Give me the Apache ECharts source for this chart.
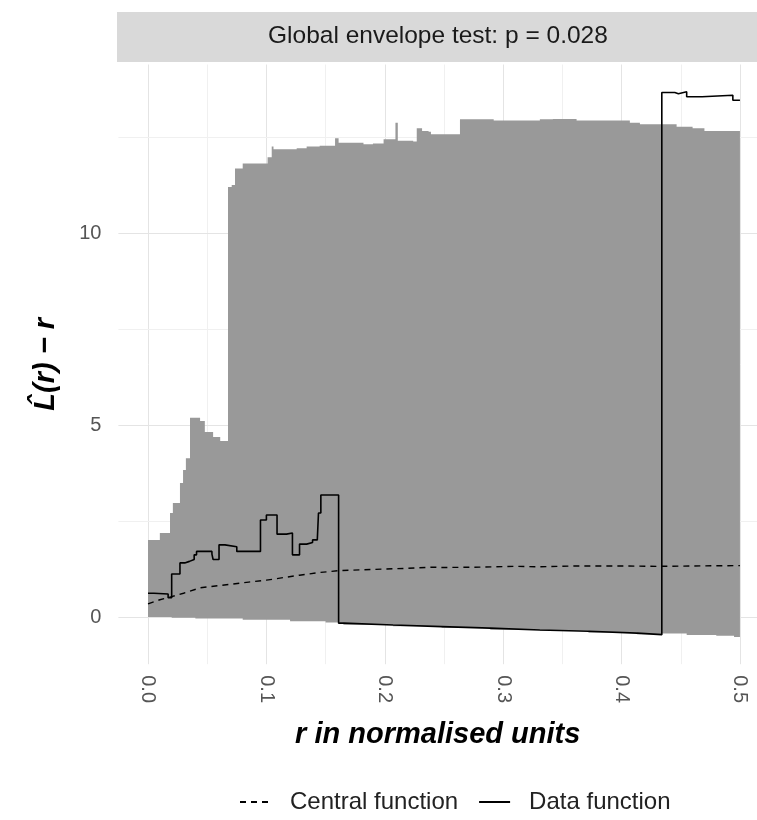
<!DOCTYPE html>
<html>
<head>
<meta charset="utf-8">
<script src="https://cdn.jsdelivr.net/npm/echarts@6/dist/echarts.min.js"></script>
<style>
  html, body { margin: 0; padding: 0; background: #fff; }
  #chart { width: 757px; height: 820px; }
</style>
</head>
<body>
<div id="chart"></div>
<script>
// r breakpoints / values (step functions, value holds until next r)
const upperEnv = [
  [0, 2.01], [0.01, 2.19], [0.0186, 2.71], [0.021, 2.97], [0.027, 3.49], [0.0296, 3.83],
  [0.032, 4.14], [0.0355, 5.19], [0.044, 5.11], [0.048, 4.82], [0.055, 4.69], [0.061, 4.59],
  [0.0676, 11.21], [0.0707, 11.26], [0.0735, 11.69], [0.08, 11.82], [0.101, 11.98],
  [0.1045, 12.26], [0.106, 12.19], [0.1256, 12.22], [0.134, 12.26], [0.145, 12.28],
  [0.158, 12.48], [0.161, 12.36], [0.182, 12.32], [0.19, 12.34], [0.199, 12.45],
  [0.209, 12.88], [0.211, 12.41], [0.224, 12.39], [0.227, 12.74], [0.2315, 12.67],
  [0.237, 12.65], [0.239, 12.58], [0.2635, 12.97], [0.292, 12.94], [0.331, 12.97],
  [0.342, 12.98], [0.362, 12.94], [0.407, 12.88], [0.4155, 12.84], [0.4465, 12.78],
  [0.46, 12.74], [0.47, 12.67], [0.5, 12.67]
];
const lowerEnv = [
  [0, 0], [0.02, -0.02], [0.04, -0.04], [0.08, -0.07], [0.12, -0.11], [0.15, -0.14],
  [0.161, -0.15], [0.165, -0.2], [0.207, -0.24], [0.248, -0.28], [0.289, -0.33],
  [0.331, -0.36], [0.372, -0.41], [0.413, -0.45], [0.434, -0.43], [0.455, -0.47],
  [0.48, -0.49], [0.495, -0.52], [0.5, -0.52]
];
const centralFn = [
  [0, 0.34], [0.01, 0.45], [0.02, 0.53], [0.03, 0.62], [0.044, 0.76], [0.06, 0.82],
  [0.072, 0.86], [0.085, 0.91], [0.1, 0.96], [0.115, 1.03], [0.128, 1.09], [0.145, 1.16],
  [0.162, 1.21], [0.18, 1.23], [0.2, 1.25], [0.22, 1.27], [0.24, 1.3], [0.25, 1.29],
  [0.28, 1.3], [0.31, 1.32], [0.33, 1.31], [0.36, 1.33], [0.4, 1.33], [0.43, 1.32],
  [0.46, 1.33], [0.5, 1.34]
];
const dataFn = [
  [0, 0.62], [0.005, 0.6], [0.017, 0.5], [0.02, 1.12], [0.027, 1.41], [0.031, 1.45],
  [0.035, 1.5], [0.039, 1.62], [0.041, 1.71], [0.054, 1.64], [0.055, 1.5], [0.06, 1.88],
  [0.065, 1.83], [0.075, 1.71], [0.095, 2.53], [0.1, 2.66], [0.109, 2.16], [0.117, 2.19],
  [0.122, 1.62], [0.128, 1.9], [0.134, 1.94], [0.139, 2.01], [0.143, 2.06], [0.144, 2.71],
  [0.146, 3.18], [0.161, -0.16], [0.165, -0.21], [0.207, -0.25], [0.248, -0.29],
  [0.289, -0.34], [0.331, -0.37], [0.372, -0.42], [0.413, -0.46], [0.434, 13.67],
  [0.445, 13.64], [0.448, 13.69], [0.455, 13.56], [0.468, 13.6], [0.494, 13.47], [0.5, 13.47]
];
const xTicks = [0, 0.1, 0.2, 0.3, 0.4, 0.5];
const xMinor = [0.05, 0.15, 0.25, 0.35, 0.45];
const yTicks = [0, 5, 10];
const yMinor = [2.5, 7.5, 12.5];
const stripText = "Global envelope test: p = 0.028";

const FONT = "Liberation Sans, Arial, sans-serif";

// turn a right-continuous step list into polygon vertices
function stepPts(list) {
  const out = [];
  for (let i = 0; i < list.length; i++) {
    out.push(list[i]);
    if (i + 1 < list.length) out.push([list[i + 1][0], list[i][1]]);
  }
  return out;
}

const chart = echarts.init(document.getElementById("chart"), null, { renderer: "canvas" });

const major = { color: "#E4E4E4", width: 1, type: "solid" };
const minor = { color: "#F0F0F0", width: 1, type: "solid" };
const gridLines = []
  .concat(xTicks.map((v) => ({ xAxis: v, lineStyle: major })))
  .concat(xMinor.map((v) => ({ xAxis: v, lineStyle: minor })))
  .concat(yTicks.map((v) => ({ yAxis: v, lineStyle: major })))
  .concat(yMinor.map((v) => ({ yAxis: v, lineStyle: minor })));

const option = {
  animation: false,
  backgroundColor: "#fff",
  graphic: [
    {
      type: "rect",
      left: 117,
      top: 12,
      z: -1,
      shape: { width: 640, height: 50 },
      style: { fill: "#D9D9D9" },
      silent: true,
    },
    {
      type: "text",
      left: 268,
      top: 24,
      style: {
        text: stripText,
        fill: "#1A1A1A",
        font: "24.5px " + FONT,
      },
      silent: true,
    },
  ],
  grid: {
    left: 118.4,
    top: 64.5,
    right: 0,
    height: 599.7,
    containLabel: false,
  },
  legend: {
    bottom: 1,
    left: 234,
    data: ["Central function", "Data function"],
    itemWidth: 31,
    itemHeight: 14,
    itemGap: 20,
    itemStyle: { opacity: 0 },
    textStyle: { fontFamily: FONT, fontSize: 24, color: "#222", padding: [0, 0, 0, 14] },
  },
  xAxis: {
    type: "value",
    min: -0.025,
    max: 0.5144,
    name: "r in normalised units",
    nameLocation: "middle",
    nameGap: 56,
    nameTextStyle: {
      fontFamily: FONT,
      fontSize: 29,
      fontStyle: "italic",
      fontWeight: "bold",
      color: "#000",
    },
    axisLine: { show: false },
    splitLine: { show: false },
    axisTick: { show: true, customValues: xTicks, length: 8, lineStyle: { color: "#DADADA" } },
    axisLabel: {
      customValues: xTicks,
      rotate: -90,
      margin: 11,
      fontFamily: FONT,
      fontSize: 20,
      color: "#555",
      formatter: (v) => v.toFixed(1),
    },
  },
  yAxis: {
    type: "value",
    min: -1.23,
    max: 14.4,
    name: "L\u0302(r) \u2212 r",
    nameLocation: "middle",
    nameGap: 58,
    nameRotate: 90,
    nameTextStyle: {
      fontFamily: FONT,
      fontSize: 29,
      fontStyle: "italic",
      fontWeight: "bold",
      color: "#000",
    },
    axisLine: { show: false },
    splitLine: { show: false },
    axisTick: { show: true, customValues: yTicks, length: 8, lineStyle: { color: "#DADADA" } },
    axisLabel: {
      customValues: yTicks,
      margin: 17,
      fontFamily: FONT,
      fontSize: 20,
      color: "#555",
    },
  },
  series: [
    {
      name: "grid",
      type: "line",
      data: [[0, 0]],
      showSymbol: false,
      lineStyle: { opacity: 0 },
      z: 0,
      silent: true,
      markLine: {
        z: 1,
        silent: true,
        symbol: ["none", "none"],
        label: { show: false },
        data: gridLines,
      },
    },
    {
      name: "envelope",
      type: "custom",
      data: [[0, 0]],
      z: 2,
      silent: true,
      clip: true,
      renderItem: (params, api) => {
        const top = stepPts(upperEnv);
        const bot = stepPts(lowerEnv).reverse();
        const pts = top.concat(bot).map((p) => api.coord(p));
        return {
          type: "polygon",
          shape: { points: pts },
          style: { fill: "#999999" },
        };
      },
    },
    {
      name: "Central function",
      type: "line",
      data: centralFn,
      showSymbol: false,
      symbol: "none",
      z: 3,
      color: "#000",
      lineStyle: { color: "#000", width: 1.4, type: [6, 5] },
    },
    {
      name: "Data function",
      type: "line",
      data: dataFn,
      step: "end",
      showSymbol: false,
      symbol: "none",
      z: 4,
      color: "#000",
      lineStyle: { color: "#000", width: 1.6 },
    },
  ],
};

chart.setOption(option);
</script>
</body>
</html>
